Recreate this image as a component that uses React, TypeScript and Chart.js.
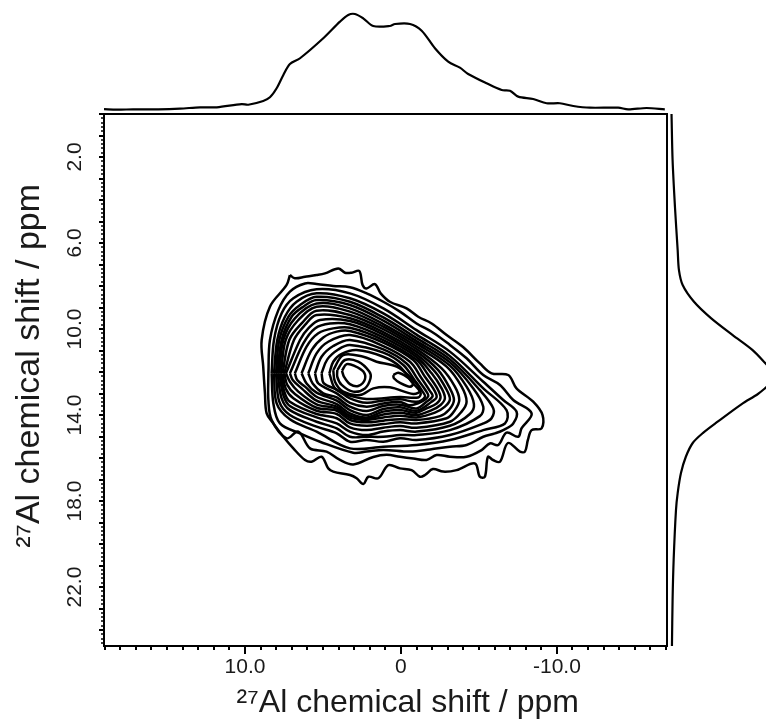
import React, { useEffect, useRef } from "react";
import { Chart, registerables } from "chart.js";

Chart.register(...registerables);

type P = [number, number];

const contour00: P[] = [[7.12,7.49],[6.80,7.64],[6.15,7.57],[5.41,7.49],[4.87,7.41],[4.02,7.18],[3.59,7.38],[3.16,7.38],[2.67,7.30],[2.46,7.95],[2.20,8.11],[1.67,7.91],[1.30,8.34],[0.71,8.73],[-0.36,9.04],[-1.11,9.43],[-1.97,9.74],[-2.93,10.28],[-4.00,10.85],[-5.06,11.60],[-5.81,12.06],[-6.88,12.14],[-7.41,12.76],[-8.48,13.38],[-9.08,14.00],[-9.02,14.62],[-8.38,14.70],[-8.14,15.16],[-7.95,15.70],[-7.63,15.70],[-6.86,15.30],[-6.35,16.17],[-5.90,16.09],[-5.58,15.94],[-5.38,16.87],[-5.06,16.87],[-4.74,16.25],[-3.57,16.56],[-2.71,16.63],[-2.05,16.51],[-1.54,16.79],[-1.22,16.87],[-0.68,16.56],[0.06,16.48],[0.81,16.33],[1.45,16.94],[2.09,16.87],[2.41,17.21],[2.84,16.94],[3.27,16.79],[4.34,16.63],[4.66,16.48],[5.09,15.94],[5.73,16.17],[6.15,16.09],[6.90,15.55],[7.54,15.01],[8.18,14.39],[8.61,13.92],[8.72,12.99],[8.83,11.75],[8.93,10.51],[8.40,8.96],[7.33,7.95],[7.12,7.49]];
const contour01: P[] = [[8.50,12.06],[8.40,10.51],[7.86,9.12],[7.12,8.26],[6.15,7.88],[5.41,7.91],[4.34,8.00],[3.27,8.06],[2.20,8.34],[1.13,8.73],[0.06,9.19],[-1.00,9.74],[-2.07,10.17],[-3.14,10.74],[-4.21,11.36],[-5.28,12.14],[-6.35,12.60],[-7.20,13.30],[-8.38,13.92],[-7.73,14.62],[-7.52,15.01],[-6.77,14.82],[-6.24,15.39],[-5.70,15.32],[-5.17,15.63],[-4.21,15.94],[-3.14,15.94],[-2.29,15.86],[-1.64,16.09],[-0.79,16.02],[0.06,15.94],[0.92,15.85],[1.77,15.95],[3.06,16.30],[3.91,16.09],[4.77,15.70],[5.83,15.55],[6.58,14.77],[7.33,15.08],[8.29,14.23],[8.50,13.30],[8.50,12.06]];
const contour02: P[] = [[8.29,12.06],[8.14,10.51],[7.65,9.27],[6.90,8.57],[5.41,8.15],[3.27,8.34],[1.13,9.04],[-1.00,10.05],[-3.14,11.05],[-5.28,12.45],[-6.56,13.30],[-7.41,13.84],[-7.20,14.39],[-6.56,14.70],[-6.03,14.85],[-5.28,15.01],[-4.21,15.39],[-3.14,15.47],[-1.86,15.60],[-0.58,15.70],[1.13,15.62],[2.20,15.70],[3.06,15.75],[5.19,15.24],[6.47,14.85],[7.76,14.39],[8.18,13.46],[8.29,12.06]];
const contour03: P[] = [[8.14,12.06],[7.93,10.51],[7.44,9.43],[6.69,8.73],[5.41,8.34],[3.27,8.57],[1.13,9.27],[-1.00,10.26],[-3.14,11.26],[-5.28,12.76],[-6.77,13.77],[-6.67,14.39],[-5.28,14.70],[-3.14,15.16],[-1.00,15.39],[1.13,15.47],[3.27,15.55],[5.41,14.77],[7.12,14.20],[7.97,13.46],[8.14,12.06]];
const contour04: P[] = [[8.01,12.06],[7.80,10.51],[7.22,9.43],[6.47,8.88],[5.41,8.50],[3.27,8.73],[1.13,9.46],[-1.00,10.42],[-3.14,11.41],[-5.06,12.84],[-5.92,13.69],[-5.81,14.15],[-5.28,14.39],[-3.14,14.93],[-1.00,15.16],[0.06,15.08],[1.13,15.24],[2.20,15.16],[3.27,15.24],[4.12,14.85],[5.41,14.54],[7.12,14.00],[7.80,13.38],[8.01,12.06]];
const contour05: P[] = [[7.91,12.06],[7.65,10.51],[7.01,9.43],[6.26,8.96],[5.41,8.65],[3.27,8.88],[1.13,9.61],[-1.00,10.56],[-3.14,11.55],[-4.64,12.76],[-5.28,13.61],[-5.06,14.05],[-3.14,14.70],[-1.00,14.93],[0.06,14.93],[1.13,15.01],[2.20,15.01],[3.27,15.01],[4.12,14.62],[5.41,14.31],[7.12,13.77],[7.65,13.22],[7.91,12.06]];
const contour06: P[] = [[7.80,12.06],[7.54,10.51],[6.80,9.50],[5.41,8.81],[3.27,9.04],[1.13,9.77],[-1.00,10.68],[-3.14,11.70],[-4.21,12.68],[-4.68,13.49],[-4.42,13.95],[-3.14,14.50],[-1.00,14.77],[0.06,14.70],[1.13,14.77],[2.20,14.93],[3.27,14.77],[4.12,14.39],[5.41,14.11],[7.12,13.58],[7.54,13.07],[7.80,12.06]];
const contour07: P[] = [[7.69,12.06],[7.39,10.51],[6.58,9.58],[5.41,8.96],[3.27,9.19],[1.13,9.89],[-1.00,10.81],[-2.93,11.75],[-3.89,12.68],[-4.21,13.38],[-3.89,13.84],[-3.14,14.31],[-1.00,14.59],[0.06,14.51],[1.13,14.59],[2.20,14.70],[3.27,14.57],[4.12,14.15],[5.41,13.95],[7.12,13.38],[7.48,12.91],[7.69,12.06]];
const contour08: P[] = [[7.59,12.06],[7.16,10.51],[6.37,9.74],[5.41,9.15],[3.27,9.35],[1.13,10.01],[-1.00,10.93],[-2.61,11.83],[-3.46,12.68],[-3.74,13.30],[-3.46,13.77],[-2.93,14.15],[-1.00,14.39],[0.06,14.34],[1.13,14.42],[2.20,14.50],[3.27,14.39],[4.12,13.95],[5.41,13.80],[6.90,13.22],[7.39,12.76],[7.59,12.06]];
const contour09: P[] = [[7.48,12.06],[6.86,10.51],[6.15,9.81],[5.41,9.35],[3.27,9.50],[1.13,10.14],[-1.00,11.05],[-2.39,11.91],[-3.14,12.76],[-3.40,13.30],[-3.10,13.74],[-2.50,14.05],[-1.00,14.23],[0.06,14.19],[1.13,14.26],[2.20,14.34],[3.27,14.23],[4.12,13.80],[5.41,13.66],[6.80,13.02],[7.29,12.60],[7.48,12.06]];
const contour10: P[] = [[7.37,12.06],[6.47,10.51],[5.94,9.97],[5.19,9.58],[3.27,9.63],[1.13,10.26],[-1.00,11.18],[-2.18,11.98],[-2.88,12.76],[-3.14,13.27],[-2.82,13.61],[-2.18,13.89],[-1.00,14.11],[0.06,14.03],[1.13,14.11],[2.20,14.23],[3.27,14.12],[4.12,13.70],[5.41,13.50],[6.58,12.91],[7.12,12.45],[7.37,12.06]];
const contour11: P[] = [[7.12,12.06],[6.26,10.67],[5.51,9.97],[4.55,9.74],[3.27,9.78],[1.13,10.39],[-1.00,11.30],[-1.97,12.06],[-2.61,12.76],[-2.82,13.22],[-2.54,13.53],[-1.97,13.77],[-1.00,14.00],[0.06,13.89],[1.13,13.97],[2.20,14.17],[3.27,14.03],[4.12,13.61],[5.41,13.33],[6.37,12.76],[6.94,12.37],[7.12,12.06]];
const contour12: P[] = [[6.80,12.06],[6.05,10.82],[5.30,10.20],[4.34,9.97],[3.27,9.94],[1.13,10.51],[-1.00,11.43],[-1.75,12.14],[-2.33,12.76],[-2.54,13.18],[-2.29,13.46],[-1.64,13.69],[-1.00,13.89],[0.06,13.77],[1.13,13.84],[2.20,14.11],[3.27,13.92],[4.12,13.49],[5.41,13.15],[6.15,12.68],[6.65,12.37],[6.80,12.06]];
const contour13: P[] = [[6.37,12.06],[5.73,10.98],[4.98,10.39],[4.12,10.12],[3.27,10.09],[1.13,10.63],[-0.79,11.44],[-1.54,12.22],[-2.07,12.76],[-2.29,13.15],[-1.97,13.38],[-1.00,13.80],[0.06,13.64],[1.13,13.72],[2.20,14.00],[3.27,13.77],[4.12,13.33],[5.41,12.96],[6.05,12.53],[6.37,12.06]];
const contour14: P[] = [[5.94,12.06],[5.41,11.13],[4.66,10.59],[3.27,10.28],[1.13,10.79],[-0.58,11.52],[-1.32,12.29],[-1.82,12.84],[-2.03,13.12],[-1.64,13.38],[-1.00,13.69],[0.06,13.52],[1.13,13.58],[2.20,13.81],[3.27,13.61],[4.12,13.18],[4.98,12.99],[5.66,12.53],[5.94,12.06]];
const contour15: P[] = [[5.51,12.06],[5.09,11.29],[4.34,10.79],[3.27,10.51],[1.13,10.95],[-0.36,11.60],[-1.11,12.37],[-1.60,12.87],[-1.75,13.12],[-1.32,13.38],[-0.58,13.55],[0.06,13.39],[1.13,13.46],[2.20,13.61],[3.27,13.43],[4.12,12.99],[5.30,12.53],[5.51,12.06]];
const contour16: P[] = [[5.09,12.06],[4.72,11.41],[4.02,10.95],[3.27,10.74],[1.13,11.10],[-0.15,11.67],[-0.90,12.40],[-1.39,12.91],[-1.54,13.15],[-1.00,13.38],[0.06,13.27],[1.13,13.32],[2.20,13.43],[3.27,13.22],[4.12,12.81],[4.94,12.53],[5.09,12.06]];
const contour17: P[] = [[4.59,12.06],[4.34,11.52],[3.80,11.16],[2.84,10.98],[1.13,11.29],[0.06,11.75],[-0.68,12.45],[-1.26,12.96],[-1.11,13.18],[0.06,13.16],[2.20,13.25],[3.48,13.05],[4.23,12.76],[4.59,12.06]];
const contour18: P[] = [[4.34,11.91],[3.70,11.21],[2.41,11.29],[1.56,11.52],[0.28,11.75],[-0.58,12.22],[-1.26,12.84],[-0.79,13.02],[0.71,12.71],[1.77,12.76],[2.63,13.07],[3.70,12.91],[4.23,12.45],[4.34,11.91]];
const contour19: P[] = [[4.08,11.91],[3.59,11.44],[2.74,11.52],[2.03,11.98],[1.95,12.29],[2.31,12.76],[3.06,12.91],[3.80,12.60],[4.08,12.22],[4.08,11.91]];
const contour20: P[] = [[3.78,11.94],[3.48,11.63],[2.95,11.72],[2.41,11.98],[2.31,12.34],[2.74,12.65],[3.27,12.56],[3.65,12.22],[3.78,11.94]];
const contour21: P[] = [[0.49,12.14],[0.17,12.03],[-0.36,12.22],[-0.79,12.53],[-0.58,12.68],[0.06,12.50],[0.45,12.29],[0.49,12.14]];

const contours: P[][] = [contour00,contour01,contour02,contour03,contour04,contour05,contour06,contour07,contour08,contour09,contour10,contour11,contour12,contour13,contour14,contour15,contour16,contour17,contour18,contour19,contour20,contour21];

const topProjection: P[] = [[19.04,1.0],[18.23,0.3],[17.17,0.7],[15.56,0.7],[14.17,1.4],[12.88,2.8],[11.81,2.8],[10.21,6.2],[9.79,5.5],[8.83,9.4],[8.40,13.2],[7.97,22.6],[7.54,36.5],[7.12,47.9],[6.47,53.9],[4.98,74.7],[3.91,92],[3.38,99],[2.95,100],[2.42,95.5],[1.78,87.5],[0.71,87.5],[0.38,89.6],[-0.58,89.6],[-1.33,82.6],[-2.18,64.3],[-3.03,50.3],[-3.78,44.1],[-4.31,37.5],[-5.49,27.8],[-6.46,20.8],[-6.99,20.1],[-7.52,13.9],[-8.48,11.5],[-9.34,7],[-10.19,7],[-11.05,4.2],[-12.12,2.4],[-13.93,2.4],[-14.57,0.7],[-15.75,2.1],[-16.92,0.7]];
const rightProjection: P[] = [[0,0.5],[2.14,1.5],[4.37,3.8],[6.33,6.3],[7.26,7.5],[7.95,11],[8.73,21.7],[9.49,37.7],[10.28,58.2],[10.98,77],[11.67,90.6],[11.95,96],[12.19,99],[12.42,97],[12.68,90.6],[13.02,82],[13.49,66.7],[14.31,44],[14.84,30],[15.30,20.5],[15.94,14],[16.70,9.4],[17.63,6.3],[18.42,4.7],[20.74,2.5],[22.6,1.5],[24.74,0.9]];

const xTickLabels = [10, 0, -10];
const yTickLabels = [2, 6, 10, 14, 18, 22];
const xAxisTitle = "\u00A0\u00A0\u00A0\u00A0\u00A0²⁷Al chemical shift / ppm";
const yAxisTitle = "\u00A0\u00A0\u00A0²⁷Al chemical shift / ppm";

const FONT = "'Liberation Sans', Arial, sans-serif";

const toXY = (pts: P[]) => pts.map(([x, y]) => ({ x, y }));

const tickMarks = {
  id: "tickMarks",
  afterDraw(chart: any) {
    const { ctx, chartArea: a, scales } = chart;
    ctx.save();
    ctx.strokeStyle = "#000";
    ctx.lineWidth = 2;
    ctx.strokeRect(a.left, a.top, a.right - a.left, a.bottom - a.top);
    for (const t of scales.x.ticks) {
      const px = Math.round(scales.x.getPixelForValue(t.value));
      const len = xTickLabels.includes(t.value) ? 8 : 4;
      ctx.beginPath();
      ctx.moveTo(px, a.bottom);
      ctx.lineTo(px, a.bottom + len);
      ctx.stroke();
    }
    for (const t of scales.y.ticks) {
      const py = Math.round(scales.y.getPixelForValue(t.value));
      const whole = Math.abs(t.value - Math.round(t.value)) < 1e-6;
      ctx.lineWidth = whole ? 2 : 1.5;
      ctx.beginPath();
      ctx.moveTo(a.left, py);
      ctx.lineTo(a.left - (whole ? 5 : 3), py);
      ctx.stroke();
    }
    ctx.restore();
  },
};

export default function App() {
  const ref = useRef<HTMLCanvasElement>(null);
  useEffect(() => {
    const chart = new Chart(ref.current as HTMLCanvasElement, {
      type: "scatter",
      data: {
        datasets: [
          ...contours.map((c, i) => ({
            label: `contour ${i}`,
            data: toXY(c),
            showLine: true,
            borderColor: "#000",
            borderWidth: 2.5,
            pointRadius: 0,
            tension: 0.35,
            xAxisID: "x",
            yAxisID: "y",
          })),
          {
            label: "F2 projection",
            data: toXY(topProjection),
            showLine: true,
            borderColor: "#000",
            borderWidth: 2.2,
            pointRadius: 0,
            tension: 0.3,
            clip: false,
            xAxisID: "x",
            yAxisID: "yTop",
          },
          {
            label: "F1 projection",
            data: rightProjection.map(([y, x]) => ({ x, y })),
            showLine: true,
            borderColor: "#000",
            borderWidth: 2.2,
            pointRadius: 0,
            tension: 0.3,
            clip: false,
            xAxisID: "xRight",
            yAxisID: "y",
          },
        ],
      },
      plugins: [tickMarks],
      options: {
        animation: false,
        responsive: false,
        layout: { padding: { top: 114, right: 99, left: 0, bottom: 0 } },
        plugins: { legend: { display: false }, tooltip: { enabled: false } },
        scales: {
          x: {
            type: "linear",
            position: "bottom",
            reverse: true,
            min: -17.06,
            max: 19.04,
            border: { display: false },
            grid: { display: false, drawTicks: false },
            afterBuildTicks(scale: any) {
              const vals = [];
              for (let v = -17; v <= 19; v++) vals.push({ value: v });
              scale.ticks = vals;
            },
            afterFit(scale: any) {
              scale.height = 76;
            },
            ticks: {
              autoSkip: false,
              maxRotation: 0,
              minRotation: 0,
              padding: 9,
              color: "#1a1a1a",
              font: { family: FONT, size: 21 },
              callback: (v: any) => (xTickLabels.includes(v) ? (v === 0 ? "0" : Number(v).toFixed(1)) : ""),
            },
            title: {
              display: true,
              text: xAxisTitle,
              color: "#1a1a1a",
              font: { family: FONT, size: 32 },
              padding: { top: 0, bottom: 0 },
            },
          },
          y: {
            type: "linear",
            position: "left",
            reverse: true,
            min: 0,
            max: 24.74,
            border: { display: false },
            grid: { display: false, drawTicks: false },
            afterBuildTicks(scale: any) {
              const vals = [];
              for (let i = 0; i <= 123; i++) vals.push({ value: Math.round(i * 2) / 10 });
              scale.ticks = vals;
            },
            afterFit(scale: any) {
              scale.width = 104;
            },
            ticks: {
              autoSkip: false,
              minRotation: 90,
              maxRotation: 90,
              crossAlign: "center",
              padding: 8,
              color: "#1a1a1a",
              font: { family: FONT, size: 21 },
              callback: (v: any) => (yTickLabels.includes(v) ? Number(v).toFixed(1) : ""),
            },
            title: {
              display: true,
              text: yAxisTitle,
              color: "#1a1a1a",
              font: { family: FONT, size: 34 },
              padding: { top: 9, bottom: 0 },
            },
          },
          yTop: { type: "linear", display: false, position: "left", min: -558.3, max: -4.17 },
          xRight: { type: "linear", display: false, position: "bottom", min: -534.9, max: -3.77 },
        },
      },
    } as any);
    return () => chart.destroy();
  }, []);
  return (
    <canvas
      ref={ref}
      width={766}
      height={722}
      style={{ position: "absolute", left: 0, top: 0, display: "block" }}
    />
  );
}
